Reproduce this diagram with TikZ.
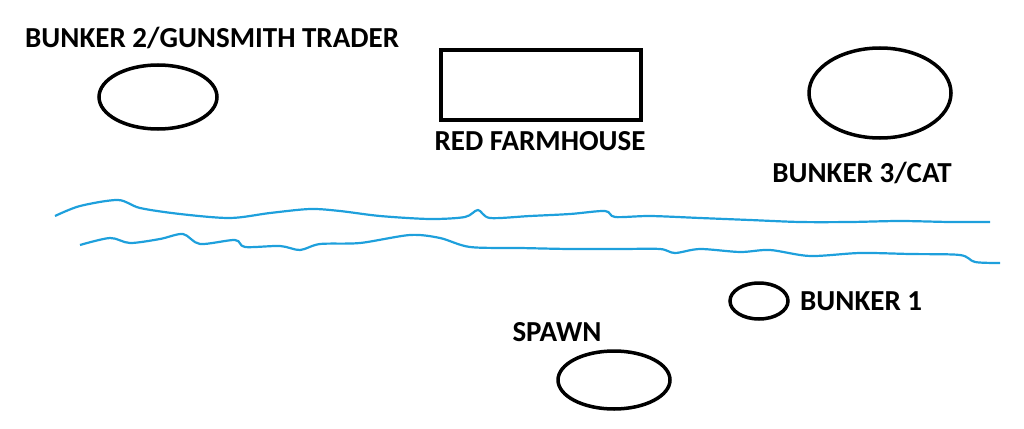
\documentclass[tikz,border=0pt]{standalone}
\usepackage{fontspec}
\setmainfont{Carlito}
\begin{document}
\begin{tikzpicture}[x=1pt,y=-1pt,
  shp/.style={draw=black,line width=3.5pt},
  lbl/.style={font=\fontsize{29}{31}\selectfont\bfseries,inner sep=0pt},
  river/.style={draw={rgb,255:red,30;green,160;blue,220},line width=2.2pt,smooth,tension=0.5}]
\useasboundingbox (0,0) rectangle (1024,428);
\node[lbl,anchor=west] (t2) at (25,38) {BUNKER 2/GUNSMITH TRADER};
\draw[shp] (158,97) ellipse [x radius=59,y radius=32];
\node[shp,minimum width=200pt,minimum height=70pt,inner sep=0pt] (farm) at (541,85) {};
\node[lbl] (t3) at (540,141) {RED FARMHOUSE};
\draw[shp] (880,93) ellipse [x radius=71,y radius=45];
\node[lbl] (t4) at (862,173) {BUNKER 3/CAT};
\draw[river] plot coordinates {(55,216) (80,206) (118,200) (140,208) (180,214) (230,218) (270,213) (310,209) (340,211) (380,216) (430,219) (465,217) (478,210) (490,218) (530,216) (570,214) (605,211) (615,217) (650,216) (700,218) (750,220) (800,222) (850,222) (900,221) (950,222) (990,222)};
\draw[river] plot coordinates {(80,245) (110,238) (130,243) (160,239) (183,234) (200,244) (235,240) (245,247) (280,246) (300,250) (320,244) (360,243) (410,235) (440,238) (470,247) (520,248) (570,249) (620,249) (660,249) (675,253) (700,249) (740,252) (770,250) (810,256) (860,253) (910,254) (960,255) (975,262) (1000,263)};
\draw[shp] (759,301) ellipse [x radius=29,y radius=18];
\node[lbl,anchor=west] (t1) at (800,301) {BUNKER 1};
\node[lbl] (ts) at (557,332) {SPAWN};
\draw[shp] (614,380) ellipse [x radius=56,y radius=29];
\end{tikzpicture}
\end{document}
